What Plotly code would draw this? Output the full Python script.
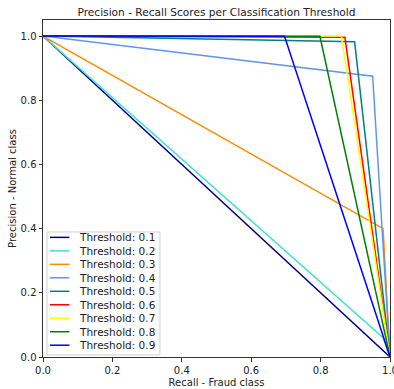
import plotly.graph_objects as go

thresholds = [0.1, 0.2, 0.3, 0.4, 0.5, 0.6, 0.7, 0.8, 0.9]
colors = ["navy", "turquoise", "darkorange", "cornflowerblue", "teal",
          "red", "yellow", "green", "blue"]
# recall / precision at the middle point of each curve (ends are (0,1) and (1,0))
mid_recall = [0.998, 0.98, 0.98, 0.95, 0.898, 0.870, 0.860, 0.798, 0.696]
mid_precision = [0.002, 0.06, 0.40, 0.875, 0.982, 0.996, 1.0, 0.999, 0.999]

fig = go.Figure()
for t, c, r, p in zip(thresholds, colors, mid_recall, mid_precision):
    fig.add_trace(go.Scatter(
        x=[0.0, r, 1.0], y=[1.0, p, 0.0], mode="lines",
        line=dict(color=c, width=1.5), name=f"Threshold: {t}",
        showlegend=False))

# matplotlib-style legend (compact rows) drawn in axis-domain coordinates
leg_x0, leg_x1, leg_y0, leg_y1 = 0.0115, 0.337, 0.006, 0.371
row_top, row_step = 0.355, 0.0400
line_x0, line_x1, text_x = 0.020, 0.076, 0.097
fig.add_shape(type="rect", xref="x domain", yref="y domain",
              x0=leg_x0, x1=leg_x1, y0=leg_y0, y1=leg_y1,
              fillcolor="rgba(255,255,255,0.8)", line=dict(color="#d0d0d0", width=1),
              layer="above")
for i, (t, c) in enumerate(zip(thresholds, colors)):
    yy = row_top - i * row_step
    fig.add_shape(type="line", xref="x domain", yref="y domain",
                  x0=line_x0, x1=line_x1, y0=yy, y1=yy,
                  line=dict(color=c, width=1.5), layer="above")
    fig.add_annotation(xref="x domain", yref="y domain", x=text_x, y=yy,
                       text=f"Threshold: {t}", showarrow=False,
                       xanchor="left", yanchor="middle",
                       font=dict(size=10.5, color="#222"))

axis_common = dict(
    showgrid=False, zeroline=False, showline=True, linecolor="#333",
    linewidth=1, mirror=True, ticks="outside", ticklen=3.5, tickwidth=1,
    tickcolor="#333", tickformat=".1f", dtick=0.2, automargin=False,
    tickfont=dict(size=10, color="#222"), ticklabeloverflow="allow",
)
fig.update_layout(
    width=394, height=389,
    margin=dict(l=43, r=4, t=20, b=32),
    paper_bgcolor="white", plot_bgcolor="white",
    font=dict(family="DejaVu Sans", size=10, color="#222"),
    title=dict(text="Precision - Recall Scores per Classification Threshold",
               x=0.5, xref="paper", xanchor="center", y=0.978, yanchor="top",
               font=dict(size=10.6, color="#222")),
    xaxis=dict(range=[0, 1], title=dict(text="Recall - Fraud class",
               font=dict(size=10), standoff=4), **axis_common),
    yaxis=dict(range=[0, 1.05], title=dict(text="Precision - Normal class",
               font=dict(size=10), standoff=2), **axis_common),
    showlegend=False,
)
fig.write_html("out.html")
